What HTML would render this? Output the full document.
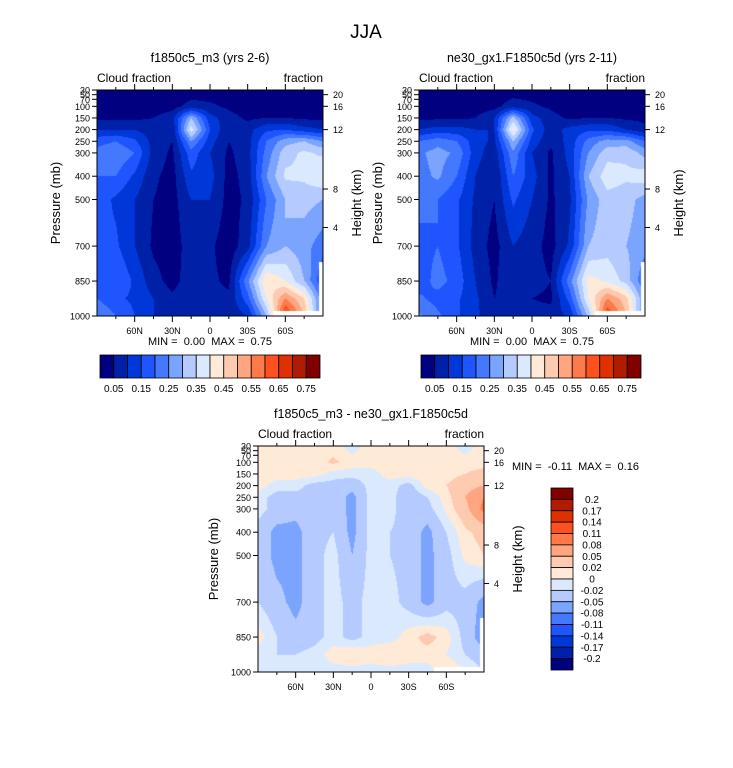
<!DOCTYPE html>
<html><head><meta charset="utf-8"><style>
body{margin:0;background:#fff;width:733px;height:768px;position:relative;overflow:hidden;font-family:"Liberation Sans",sans-serif}
canvas{position:absolute}
svg{position:absolute;left:0;top:0}
text{white-space:pre}
</style></head><body>
<canvas id="c1" width="226" height="226" style="left:97px;top:90px"></canvas>
<canvas id="c2" width="226" height="226" style="left:419px;top:90px"></canvas>
<canvas id="c3" width="226" height="226" style="left:258px;top:446px"></canvas>
<svg id="s" width="733" height="768"></svg>
<script>
const lats=[90,75,60,45,30,15,0,-15,-30,-45,-60,-75,-90];
const pres=[30,100,150,200,250,300,400,500,700,850,925,1000];
const field1=[
[.02,.02,.02,.02,.02,.02,.02,.02,.02,.02,.02,.02,.02],
[.02,.02,.02,.02,.03,.07,.06,.04,.02,.02,.02,.02,.02],
[.04,.04,.04,.05,.08,.3,.12,.07,.04,.05,.05,.04,.04],
[.1,.1,.1,.07,.06,.38,.15,.06,.08,.14,.15,.12,.1],
[.18,.2,.16,.08,.05,.25,.12,.05,.08,.2,.28,.3,.25],
[.22,.24,.2,.08,.04,.18,.1,.04,.08,.22,.33,.36,.34],
[.2,.2,.14,.06,.03,.14,.12,.03,.07,.25,.36,.36,.4],
[.18,.14,.1,.05,.03,.1,.1,.03,.06,.2,.3,.32,.3],
[.16,.16,.1,.04,.02,.08,.06,.02,.08,.25,.3,.27,.22],
[.18,.2,.14,.07,.03,.08,.06,.04,.24,.45,.4,.3,.15],
[.2,.16,.14,.1,.06,.1,.06,.06,.18,.4,.55,.45,.2],
[.25,.2,.15,.1,.06,.08,.06,.06,.1,.3,.68,.5,.2]];
const field2=[
[.02,.02,.02,.02,.02,.02,.02,.02,.02,.02,.02,.02,.02],
[.02,.02,.02,.02,.03,.08,.06,.04,.02,.02,.02,.02,.02],
[.04,.04,.04,.05,.1,.32,.12,.07,.04,.05,.05,.04,.04],
[.1,.12,.12,.1,.1,.42,.16,.07,.12,.14,.14,.1,.06],
[.2,.23,.2,.12,.09,.3,.13,.06,.12,.22,.27,.27,.2],
[.24,.27,.24,.12,.07,.24,.1,.04,.12,.25,.33,.34,.28],
[.23,.26,.2,.1,.05,.2,.12,.04,.1,.3,.38,.36,.38],
[.22,.2,.16,.09,.05,.16,.1,.04,.09,.26,.33,.32,.28],
[.18,.2,.16,.08,.03,.1,.07,.03,.11,.3,.33,.3,.27],
[.17,.22,.18,.1,.04,.1,.07,.05,.23,.42,.39,.33,.2],
[.21,.18,.16,.11,.05,.08,.05,.04,.17,.4,.55,.47,.24],
[.26,.21,.16,.11,.07,.09,.07,.07,.11,.31,.66,.5,.22]];
const diff=[
[.01,.01,.01,.01,.01,-.01,.01,.01,.01,.01,.01,-.01,.01],
[.01,.01,.01,.01,.025,.01,.01,.01,.01,.01,.01,.01,.01],
[.01,.01,.01,.01,-.01,-.01,-.01,.01,.01,.01,.01,.02,.03],
[.01,-.01,-.01,-.03,-.03,-.04,-.01,-.01,-.03,.01,.02,.04,.05],
[-.01,-.03,-.03,-.03,-.03,-.06,-.01,-.01,-.04,-.02,.01,.05,.08],
[-.01,-.03,-.04,-.03,-.03,-.06,-.01,-.01,-.04,-.03,0.005,.04,.09],
[-.03,-.06,-.06,-.03,-.02,-.06,-.01,-.02,-.03,-.06,-.02,.015,.03],
[-.03,-.06,-.06,-.03,-.01,-.05,-.01,-.02,-.03,-.06,-.03,.005,.02],
[-.02,-.04,-.06,-.03,-.01,-.03,-.01,-.01,-.03,-.06,-.03,-.03,-.06],
[.01,-.02,-.04,-.03,-.01,-.03,-.01,-.01,.01,.03,.01,-.03,-.07],
[-.01,-.02,-.02,-.01,.01,.02,.01,.02,.01,.01,.0,-.02,-.04],
[-.01,-.01,-.01,-.01,-.01,-.01,-.01,-.01,-.01,-.01,.02,0.005,-.02]];
const levels1=[.05,.1,.15,.2,.25,.3,.35,.4,.45,.5,.55,.6,.65,.7,.75];
const colors=['#000080','#0020a8','#0037d8','#1f55ff','#4478ff','#7ba4ff','#b5cbff','#dbe9ff','#ffead8','#ffcbb0','#ffa57f','#ff7a4a','#ff5020','#e03000','#b01c00','#800000'];
const levels3=[-.2,-.17,-.14,-.11,-.08,-.05,-.02,0,.02,.05,.08,.11,.14,.17,.2];
const cb1Labels=['0.05','0.15','0.25','0.35','0.45','0.55','0.65','0.75'];
const cb3Labels=['-0.2','-0.17','-0.14','-0.11','-0.08','-0.05','-0.02','0','0.02','0.05','0.08','0.11','0.14','0.17','0.2'];
const xTicks=[60,30,0,-30,-60];
const xTickLabels=['60N','30N','0','30S','60S'];
const pTicks=[30,50,70,100,150,200,250,300,400,500,700,850,1000];
const zTicks=[20,16,12,8,4];
const zTickPres=[50,100,200,455,620];

const W=226,H=226;
const xS=(lat,x0)=>x0+(90-lat)/180*W;
const yS=(p,y0)=>y0+(p-30)/970*H;
function sample(f,lat,p){
  let i=0;while(i<lats.length-2&&lat<lats[i+1])i++;
  let j=0;while(j<pres.length-2&&p>pres[j+1])j++;
  const tx=(lats[i]-lat)/(lats[i]-lats[i+1]);
  const ty=Math.min(1,Math.max(0,(p-pres[j])/(pres[j+1]-pres[j])));
  const a=f[j][i]*(1-tx)+f[j][i+1]*tx, b=f[j+1][i]*(1-tx)+f[j+1][i+1]*tx;
  return a*(1-ty)+b*ty;
}
function hex(c){return [parseInt(c.substr(1,2),16),parseInt(c.substr(3,2),16),parseInt(c.substr(5,2),16)];}
function draw(id,f,lev,missing){
  const cv=document.getElementById(id),ctx=cv.getContext('2d');
  const img=ctx.createImageData(W,H);
  for(let y=0;y<H;y++)for(let x=0;x<W;x++){
    const lat=90-(x+.5)/W*180,p=30+(y+.5)/H*970;
    const v=sample(f,lat,p);let k=0;while(k<lev.length&&v>=lev[k])k++;
    let c=hex(colors[k]);
    if(missing&&((y>H-6&&x>175&&x<222)||(x>221&&y>H-55)))c=[255,255,255];
    const o=(y*W+x)*4;img.data[o]=c[0];img.data[o+1]=c[1];img.data[o+2]=c[2];img.data[o+3]=255;
  }
  ctx.putImageData(img,0,0);
}
draw('c1',field1,levels1,true);draw('c2',field2,levels1,true);draw('c3',diff,levels3,true);

const s=document.getElementById('s');const NS='http://www.w3.org/2000/svg';
function el(t,a,txt){const e=document.createElementNS(NS,t);for(const k in a)e.setAttribute(k,a[k]);if(txt!==undefined)e.textContent=txt;s.appendChild(e);return e;}
function txt(x,y,t,size,anchor,name,rot){const e=el('text',{x:x,y:y,'font-size':size,'text-anchor':anchor||'middle',fill:'#000'},t);
 
 
 if(rot)e.setAttribute('transform','rotate(-90 '+x+' '+y+')');return e;}
txt(366,38,'JJA',19,'middle','main-title');
function panel(x0,y0,title,minmax,mmPos,yt){
  txt(x0+113,y0-28,title,12.5,'middle','panel-title');
  txt(x0,y0-8,'Cloud fraction',12,'start','left-string');
  txt(x0+226,y0-8,'fraction',12,'end','right-string');
  const r=el('rect',{x:x0,y:y0,width:W,height:H,fill:'none',stroke:'#000','stroke-width':1});
  
  
  for(let lat=75;lat>=-75;lat-=15){
    const x=xS(lat,x0),maj=lat%30===0;const L=maj?6:3;
    const a=el('line',{x1:x,x2:x,y1:y0+H,y2:y0+H+L,stroke:'#000'});
    
    
    const b=el('line',{x1:x,x2:x,y1:y0,y2:y0-L,stroke:'#000'});
    
    
  }
  xTicks.forEach((lat,i)=>txt(xS(lat,x0),y0+H+18,xTickLabels[i],9,'middle','x-tick-label'));
  pTicks.forEach(p=>{const y=yS(p,y0);
    const t=el('line',{x1:x0-5,x2:x0,y1:y,y2:y,stroke:'#000'});
    
    
    txt(x0-7,y+3.5,String(p),9,'end','y-tick-label');});
  zTicks.forEach((z,i)=>{const y=yS(zTickPres[i],y0);
    const t=el('line',{x1:x0+W,x2:x0+W+5,y1:y,y2:y,stroke:'#000'});
    
    
    txt(x0+W+10,y+3.5,String(z),9,'start','height-tick-label');});
  txt(x0-yt,y0+113,'Pressure (mb)',13,'middle','y-axis-title',true);
  txt(x0+W+38,y0+113,'Height (km)',13,'middle','right-axis-title',true);
  txt(mmPos[0],mmPos[1],minmax,11,mmPos[2],'min-max-label');
}
panel(97,90,'f1850c5_m3 (yrs 2-6)','MIN =  0.00  MAX =  0.75',[210,345,'middle'],37);
panel(419,90,'ne30_gx1.F1850c5d (yrs 2-11)','MIN =  0.00  MAX =  0.75',[532,345,'middle'],37);
panel(258,446,'f1850c5_m3 - ne30_gx1.F1850c5d','MIN =  -0.11  MAX =  0.16',[512,470,'start'],40);
function hbar(x0){
  const bw=220/16;
  colors.forEach((c,i)=>{const r=el('rect',{x:x0+i*bw,y:355,width:bw,height:23,fill:c,stroke:'#000','stroke-width':.8});
    
    });
  cb1Labels.forEach((l,i)=>txt(x0+bw*(1+2*i),392,l,10,'middle','colorbar-label'));
}
hbar(100);hbar(421);
const vb=182/16;
colors.slice().reverse().forEach((c,i)=>{const r=el('rect',{x:551,y:488+i*vb,width:22,height:vb,fill:c,stroke:'#000','stroke-width':.8});
  
  });
cb3Labels.slice().reverse().forEach((l,i)=>txt(592,488+(i+1)*vb+3.5,l,10,'middle','diff-colorbar-label'));
</script>
</body></html>
